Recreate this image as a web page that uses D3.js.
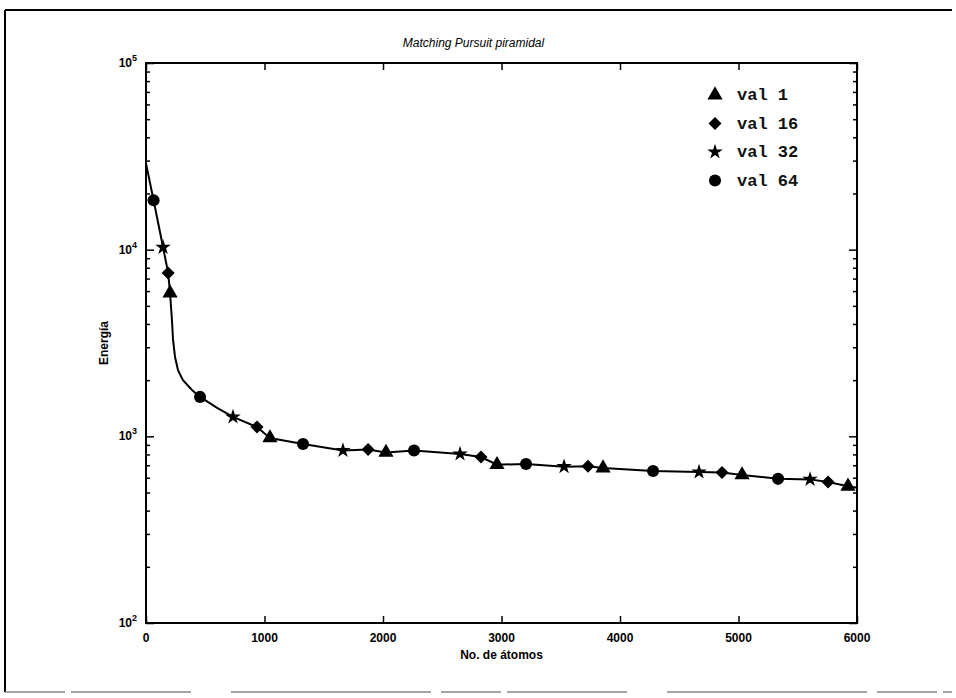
<!DOCTYPE html>
<html>
<head>
<meta charset="utf-8">
<script src="https://cdn.jsdelivr.net/npm/d3@7"></script>
<style>
  html, body { margin: 0; padding: 0; background: #fff; }
  svg { display: block; }
  .tick-label { font-family: "Liberation Sans", Arial, sans-serif; font-size: 12px; font-weight: bold; fill: #000; }
  .title-label { font-family: "Liberation Sans", Arial, sans-serif; font-size: 12px; font-style: italic; fill: #000; }
  .legend-label { font-family: "Liberation Mono", "DejaVu Sans Mono", monospace; font-size: 17px; font-weight: bold; fill: #111; }
</style>
</head>
<body>
<svg id="chart" width="956" height="698"></svg>
<script>
// Energy curve traced by the decomposition (x = number of atoms, y = energy)
const traceAtoms  = [0, 64, 144, 187, 203, 219, 228, 245, 270, 312, 388, 456, 600, 734, 937, 1046, 1325, 1662, 1874, 2025, 2262, 2650, 2827, 2962, 3207, 3528, 3730, 3857, 4279, 4667, 4861, 5030, 5334, 5604, 5756, 5924, 6000];
const traceEnergy = [29000, 18400, 10300, 7500, 5860, 4200, 3300, 2660, 2260, 2000, 1770, 1626, 1420, 1270, 1122, 980, 910, 840, 850, 820, 840, 805, 775, 705, 711, 688, 692, 676, 652, 644, 640, 621, 592, 588, 569, 540, 530];

// Marker positions for each series
const seriesNames = ["val 1", "val 16", "val 32", "val 64"];
const val1Atoms   = [203, 1046, 2025, 2962, 3857, 5030, 5924];
const val1Energy  = [5860, 980, 820, 705, 676, 621, 540];
const val16Atoms  = [187, 937, 1874, 2827, 3730, 4861, 5756];
const val16Energy = [7500, 1122, 850, 775, 692, 640, 569];
const val32Atoms  = [144, 734, 1662, 2650, 3528, 4667, 5604];
const val32Energy = [10300, 1270, 840, 805, 688, 644, 588];
const val64Atoms  = [64, 456, 1325, 2262, 3207, 4279, 5334];
const val64Energy = [18400, 1626, 910, 840, 711, 652, 592];

// Axis ticks and texts
const xTickValues = [0, 1000, 2000, 3000, 4000, 5000, 6000];
const yTickExponents = [2, 3, 4, 5];
const titleText = "Matching Pursuit piramidal";
const xLabelText = "No. de átomos";
const yLabelText = "Energía";

const svg = d3.select("#chart");
const plotLeft = 146, plotRight = 857, plotTop = 63, plotBottom = 623;

const x = d3.scaleLinear().domain([0, 6000]).range([plotLeft, plotRight]);
const y = d3.scaleLog().domain([1e2, 1e5]).range([plotBottom, plotTop]);

// page frame
const frame = svg.append("g").attr("stroke", "#000").attr("fill", "none");
frame.append("line").attr("x1", 5).attr("x2", 952).attr("y1", 10).attr("y2", 10).attr("stroke-width", 2);
frame.append("line").attr("x1", 5).attr("x2", 5).attr("y1", 10).attr("y2", 692).attr("stroke-width", 2);
frame.append("line").attr("x1", 5).attr("x2", 952).attr("y1", 692).attr("y2", 692)
  .attr("stroke", "#888").attr("stroke-width", 1.5).attr("stroke-dasharray", "60 6 120 40 200 10");

// ticks: inward on all four sides
const minorVals = [];
for (let e = 2; e < 5; e++) for (let m = 2; m <= 9; m++) minorVals.push(m * Math.pow(10, e));

const axLeft = d3.axisRight(y).tickValues(yTickExponents.map(e => Math.pow(10, e))).tickSize(8).tickFormat("");
const axLeftMinor = d3.axisRight(y).tickValues(minorVals).tickSize(4).tickFormat("");
const axRight = d3.axisLeft(y).tickValues(yTickExponents.map(e => Math.pow(10, e))).tickSize(8).tickFormat("");
const axRightMinor = d3.axisLeft(y).tickValues(minorVals).tickSize(4).tickFormat("");
const axBottom = d3.axisTop(x).tickValues(xTickValues).tickSize(7).tickFormat("");
const axTop = d3.axisBottom(x).tickValues(xTickValues).tickSize(7).tickFormat("");

[[axLeft, `translate(${plotLeft},0)`], [axLeftMinor, `translate(${plotLeft},0)`],
 [axRight, `translate(${plotRight},0)`], [axRightMinor, `translate(${plotRight},0)`],
 [axBottom, `translate(0,${plotBottom})`], [axTop, `translate(0,${plotTop})`]].forEach(([ax, tr]) => {
  const g = svg.append("g").attr("transform", tr).call(ax);
  g.select(".domain").remove();
  g.selectAll(".tick line").attr("stroke", "#000").attr("stroke-width", 1.5);
});

// plot box
svg.append("rect").attr("x", plotLeft).attr("y", plotTop)
  .attr("width", plotRight - plotLeft).attr("height", plotBottom - plotTop)
  .attr("fill", "none").attr("stroke", "#000").attr("stroke-width", 2);

// x tick labels
svg.append("g").selectAll("text").data(xTickValues).join("text")
  .attr("class", "tick-label").attr("x", d => x(d)).attr("y", plotBottom + 19)
  .attr("text-anchor", "middle").text(d => d);

// y tick labels 10^n
const yl = svg.append("g").selectAll("text").data(yTickExponents).join("text")
  .attr("class", "tick-label").attr("x", plotLeft - 9).attr("y", d => y(Math.pow(10, d)) + 4)
  .attr("text-anchor", "end");
yl.append("tspan").text("10");
yl.append("tspan").attr("dy", -6).attr("font-size", "9px").text(d => d);

// titles
svg.append("text").attr("class", "title-label").attr("x", (plotLeft + plotRight) / 2 - 28).attr("y", 47)
  .attr("text-anchor", "middle").text(titleText);
svg.append("text").attr("class", "tick-label").attr("x", (plotLeft + plotRight) / 2).attr("y", plotBottom + 36)
  .attr("text-anchor", "middle").text(xLabelText);
svg.append("text").attr("class", "tick-label")
  .attr("transform", `translate(${plotLeft - 38},${(plotTop + plotBottom) / 2}) rotate(-90)`)
  .attr("text-anchor", "middle").text(yLabelText);

// energy trace
const trace = traceAtoms.map((a, i) => [a, traceEnergy[i]]);
svg.append("path").datum(trace)
  .attr("fill", "none").attr("stroke", "#000").attr("stroke-width", 2)
  .attr("d", d3.line().x(d => x(d[0])).y(d => y(d[1])));

// series markers
const series = [
  { name: seriesNames[0], atoms: val1Atoms,  energy: val1Energy,  sym: d3.symbolTriangle, size: 100, rot: 0 },
  { name: seriesNames[1], atoms: val16Atoms, energy: val16Energy, sym: d3.symbolSquare,   size: 85, rot: 45 },
  { name: seriesNames[2], atoms: val32Atoms, energy: val32Energy, sym: d3.symbolStar,     size: 75, rot: 0 },
  { name: seriesNames[3], atoms: val64Atoms, energy: val64Energy, sym: d3.symbolCircle,   size: 115, rot: 0 }
];

series.forEach(s => {
  const pts = s.atoms.map((a, i) => [a, s.energy[i]]);
  svg.append("g").selectAll("path").data(pts).join("path")
    .attr("d", d3.symbol().type(s.sym).size(s.size))
    .attr("transform", d => `translate(${x(d[0])},${y(d[1])}) rotate(${s.rot})`)
    .attr("fill", "#000");
});

// legend
const legend = svg.append("g").attr("transform", "translate(715,95)");
series.forEach((s, i) => {
  const row = legend.append("g").attr("transform", `translate(0,${i * 28.5})`);
  row.append("path").attr("d", d3.symbol().type(s.sym).size(s.size))
    .attr("transform", `rotate(${s.rot})`).attr("fill", "#000");
  row.append("text").attr("class", "legend-label").attr("x", 22).attr("y", 5).text(s.name);
});
</script>
</body>
</html>
